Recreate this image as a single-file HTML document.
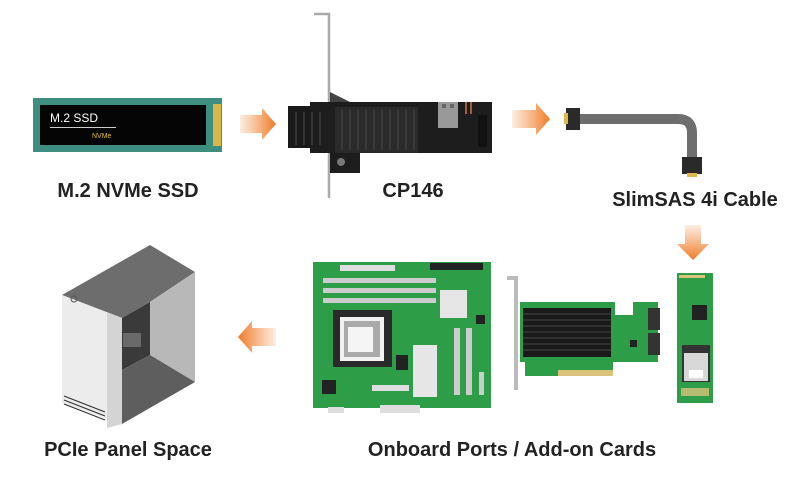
<!DOCTYPE html>
<html><head><meta charset="utf-8"><style>
html,body{margin:0;padding:0;background:#fff;width:800px;height:480px;overflow:hidden}
svg{display:block}
text{font-family:"Liberation Sans",sans-serif}
</style></head><body>
<svg width="800" height="480" viewBox="0 0 800 480" xmlns="http://www.w3.org/2000/svg">
<defs>
<linearGradient id="ah" x1="0" x2="1" y1="0" y2="0"><stop offset="0" stop-color="#f28a3c" stop-opacity="0.15"/><stop offset="1" stop-color="#f07a26"/></linearGradient>
<linearGradient id="al" x1="1" x2="0" y1="0" y2="0"><stop offset="0" stop-color="#f28a3c" stop-opacity="0.15"/><stop offset="1" stop-color="#f07a26"/></linearGradient>
<linearGradient id="ad" x1="0" x2="0" y1="0" y2="1"><stop offset="0" stop-color="#f28a3c" stop-opacity="0.15"/><stop offset="1" stop-color="#f07a26"/></linearGradient>
</defs>

<!-- SSD -->
<rect x="33" y="98" width="189" height="54" fill="#3f8f80"/>
<rect x="213" y="104" width="8" height="42" fill="#d9b84a"/>
<rect x="40" y="105" width="166" height="40" fill="#050505"/>
<text x="50" y="122" font-size="12" fill="#fff">M.2 SSD</text>
<rect x="50" y="127" width="66" height="1" fill="#ccc"/>
<text x="92" y="138" font-size="7" fill="#e5c038">NVMe</text>

<!-- arrows -->
<polygon points="240,115 262,115 262,108 276,124 262,140 262,133 240,133" fill="url(#ah)"/>
<polygon points="512,110 536,110 536,103 550,119 536,135 536,128 512,128" fill="url(#ah)"/>
<polygon points="685,225 701,225 701,244 709,244 693,260 677,244 685,244" fill="url(#ad)"/>
<polygon points="276,328 252,328 252,321 238,337 252,353 252,346 276,346" fill="url(#al)"/>

<!-- CP146 -->
<polyline points="314,14 329,14 329,198" fill="none" stroke="#aaa" stroke-width="2.5"/>
<polygon points="330,92 350,102 330,102" fill="#444"/>
<rect x="288" y="106" width="45" height="42" fill="#1a1a1a"/>
<rect x="310" y="102" width="182" height="51" fill="#1d1d1d"/>
<rect x="335" y="107" width="83" height="46" fill="#2a2a2a"/>
<g stroke="#3d3d3d" stroke-width="1.5">
<line x1="342" y1="110" x2="342" y2="150"/><line x1="350" y1="110" x2="350" y2="150"/><line x1="358" y1="110" x2="358" y2="150"/><line x1="366" y1="110" x2="366" y2="150"/><line x1="374" y1="110" x2="374" y2="150"/><line x1="382" y1="110" x2="382" y2="150"/><line x1="390" y1="110" x2="390" y2="150"/><line x1="398" y1="110" x2="398" y2="150"/><line x1="406" y1="110" x2="406" y2="150"/><line x1="414" y1="110" x2="414" y2="150"/>
<line x1="296" y1="112" x2="296" y2="145"/><line x1="304" y1="112" x2="304" y2="145"/><line x1="312" y1="112" x2="312" y2="145"/><line x1="320" y1="112" x2="320" y2="145"/>
</g>
<rect x="438" y="102" width="20" height="26" fill="#999"/>
<rect x="442" y="104" width="4" height="4" fill="#666"/><rect x="450" y="104" width="4" height="4" fill="#666"/>
<rect x="465" y="102" width="2" height="12" fill="#a06040"/><rect x="470" y="102" width="2" height="12" fill="#a06040"/>
<rect x="478" y="115" width="9" height="32" fill="#111"/>
<rect x="330" y="153" width="30" height="20" fill="#1d1d1d"/>
<circle cx="341" cy="162" r="4" fill="#777"/>

<!-- cable -->
<path d="M580,119 L678,119 Q692,119 692,133 L692,160" fill="none" stroke="#6e6e6e" stroke-width="10"/>
<rect x="566" y="108" width="14" height="22" fill="#2a2a2a"/>
<rect x="564" y="113" width="4" height="11" fill="#e0b84a"/>
<rect x="682" y="157" width="20" height="17" fill="#2a2a2a"/>
<rect x="687" y="173" width="10" height="4" fill="#e0b84a"/>

<!-- labels -->
<text x="128" y="197" font-size="20" font-weight="bold" fill="#222" text-anchor="middle">M.2 NVMe SSD</text>
<text x="413" y="197" font-size="20" font-weight="bold" fill="#222" text-anchor="middle">CP146</text>
<text x="695" y="206" font-size="20" font-weight="bold" fill="#222" text-anchor="middle">SlimSAS 4i Cable</text>
<text x="128" y="456" font-size="20" font-weight="bold" fill="#222" text-anchor="middle">PCIe Panel Space</text>
<text x="512" y="456" font-size="20" font-weight="bold" fill="#222" text-anchor="middle">Onboard Ports / Add-on Cards</text>

<!-- tower -->
<polygon points="62,295 150,245 195,272 150,302 122,318" fill="#6d6d6d"/>
<polygon points="150,302 195,272 195,382 150,355" fill="#b8b8b8"/>
<polygon points="122,318 150,302 150,355 122,370" fill="#3a3a3a"/>
<polygon points="122,370 150,355 195,382 122,424" fill="#5e5e5e"/>
<polygon points="62,295 122,318 122,424 62,403" fill="#ececec"/>
<polygon points="107,312 122,318 122,424 107,428" fill="#d4d4d4"/>
<circle cx="74" cy="299" r="3" fill="none" stroke="#555" stroke-width="1"/>
<g stroke="#333" stroke-width="1.2"><line x1="64" y1="396" x2="105" y2="412"/><line x1="64" y1="400" x2="105" y2="416"/><line x1="64" y1="404" x2="105" y2="420"/></g>
<rect x="123" y="333" width="18" height="14" fill="#999" opacity="0.5"/>

<!-- motherboard -->
<rect x="313" y="262" width="178" height="146" fill="#2e9d47"/>
<rect x="340" y="265" width="55" height="6" fill="#ddd"/>
<rect x="430" y="263" width="53" height="7" fill="#222"/>
<rect x="323" y="278" width="113" height="5" fill="#ccc"/>
<rect x="323" y="288" width="113" height="5" fill="#ccc"/>
<rect x="323" y="298" width="113" height="5" fill="#ccc"/>
<rect x="333" y="310" width="59" height="57" fill="#2a2a2a"/>
<rect x="340" y="317" width="44" height="44" fill="#f2f2f2"/>
<rect x="344" y="321" width="36" height="36" fill="#aaa"/>
<rect x="348" y="327" width="25" height="25" fill="#f5f5f5"/>
<rect x="440" y="290" width="27" height="28" fill="#e6e6e6"/>
<rect x="413" y="345" width="24" height="52" fill="#e6e6e6"/>
<rect x="454" y="328" width="6" height="67" fill="#ccc"/>
<rect x="466" y="328" width="6" height="67" fill="#ccc"/>
<rect x="479" y="372" width="5" height="23" fill="#ccc"/>
<rect x="396" y="355" width="12" height="15" fill="#222"/>
<rect x="322" y="380" width="14" height="14" fill="#222"/>
<rect x="372" y="385" width="37" height="6" fill="#ddd"/>
<rect x="476" y="315" width="9" height="9" fill="#222"/>
<rect x="380" y="405" width="40" height="8" fill="#ddd"/>
<rect x="328" y="407" width="16" height="6" fill="#ddd"/>

<!-- add-on card -->
<polyline points="507,278 516,278 516,390" fill="none" stroke="#bbb" stroke-width="4"/>
<rect x="520" y="302" width="95" height="60" fill="#2e9d47"/>
<rect x="613" y="315" width="45" height="47" fill="#2e9d47"/>
<rect x="633" y="302" width="25" height="14" fill="#2e9d47"/>
<rect x="525" y="362" width="88" height="14" fill="#2e9d47"/>
<rect x="558" y="370" width="55" height="6" fill="#d9c27a"/>
<rect x="523" y="308" width="88" height="49" fill="#1a1a1a"/>
<g stroke="#444" stroke-width="1"><line x1="523" y1="314" x2="611" y2="314"/><line x1="523" y1="320" x2="611" y2="320"/><line x1="523" y1="326" x2="611" y2="326"/><line x1="523" y1="332" x2="611" y2="332"/><line x1="523" y1="338" x2="611" y2="338"/><line x1="523" y1="344" x2="611" y2="344"/><line x1="523" y1="350" x2="611" y2="350"/></g>
<rect x="648" y="308" width="12" height="22" fill="#333"/>
<rect x="648" y="333" width="12" height="22" fill="#333"/>
<rect x="630" y="340" width="7" height="7" fill="#222"/>

<!-- small M.2 adapter -->
<rect x="677" y="273" width="36" height="130" fill="#2e9d47"/>
<rect x="679" y="275" width="26" height="3" fill="#d9c27a"/>
<rect x="692" y="305" width="15" height="15" fill="#222"/>
<rect x="682" y="345" width="28" height="37" fill="#333"/>
<rect x="684" y="353" width="24" height="28" fill="#d8d8d8"/>
<rect x="689" y="370" width="14" height="8" fill="#fff"/>
<rect x="681" y="388" width="28" height="8" fill="#d9c27a" opacity="0.8"/>
</svg>
</body></html>
